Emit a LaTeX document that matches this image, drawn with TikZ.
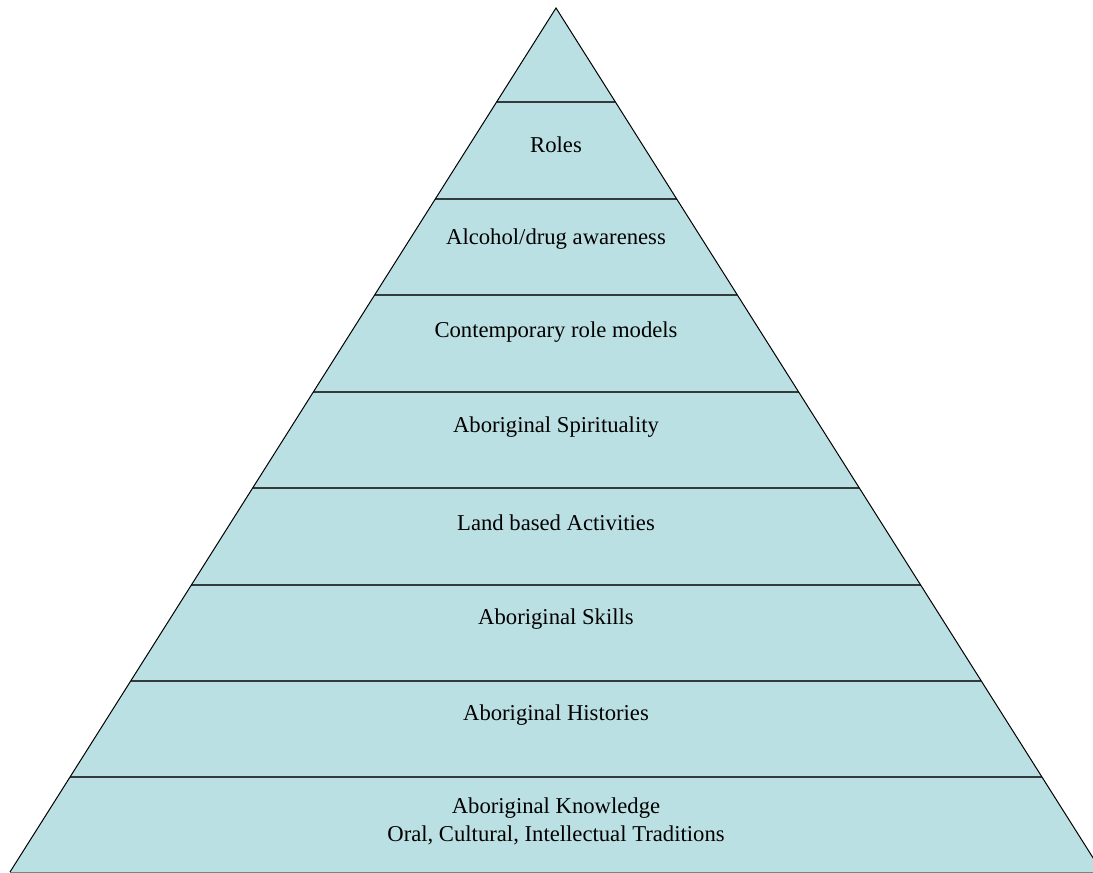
\documentclass[tikz,border=0pt]{standalone}
\usepackage{fontspec}
\setmainfont{Liberation Serif}
\usetikzlibrary{calc}
\definecolor{tierfill}{HTML}{BBE0E3}
\definecolor{tierline}{HTML}{333B3C}

\begin{document}
\begin{tikzpicture}[x=0.75pt,y=-0.75pt,
	tier/.style={font=\fontsize{17}{21}\selectfont, align=center, inner sep=0pt}]
	\useasboundingbox (0,0) rectangle (1093,873);
	\clip (0,0) rectangle (1093,873);
	% Вершины пирамиды
	\coordinate (apex) at (556,8);
	\coordinate (bl) at (10,872);
	\coordinate (br) at (1102,872);
	\fill[tierfill] (apex) -- (bl) -- (br) -- cycle;
	% Границы уровней
	\foreach \y in {102,199,295,392,488,585,681,777} {
		\pgfmathsetmacro{\t}{(\y-8)/864}
		\draw[tierline, line width=1.6pt] ($(apex)!\t!(bl)$) -- ($(apex)!\t!(br)$);
	}
	\draw[gray, line width=0.75pt] (bl) -- (br);
	\draw[line width=0.75pt] (bl) -- (apex) -- (br);
	% Подписи уровней
	\node[tier] (roles) at (556,145) {Roles};
	\node[tier] (alcohol) at (556,239) {Alcohol/drug awareness};
	\node[tier] (models) at (556,332) {Contemporary role models};
	\node[tier] (spirit) at (556,427) {Aboriginal Spirituality};
	\node[tier] (land) at (556,523) {Land based Activities};
	\node[tier] (skills) at (556,619) {Aboriginal Skills};
	\node[tier] (hist) at (556,715) {Aboriginal Histories};
	\node[tier] (know) at (556,821) {Aboriginal Knowledge\\Oral, Cultural, Intellectual Traditions};
\end{tikzpicture}
\end{document}
